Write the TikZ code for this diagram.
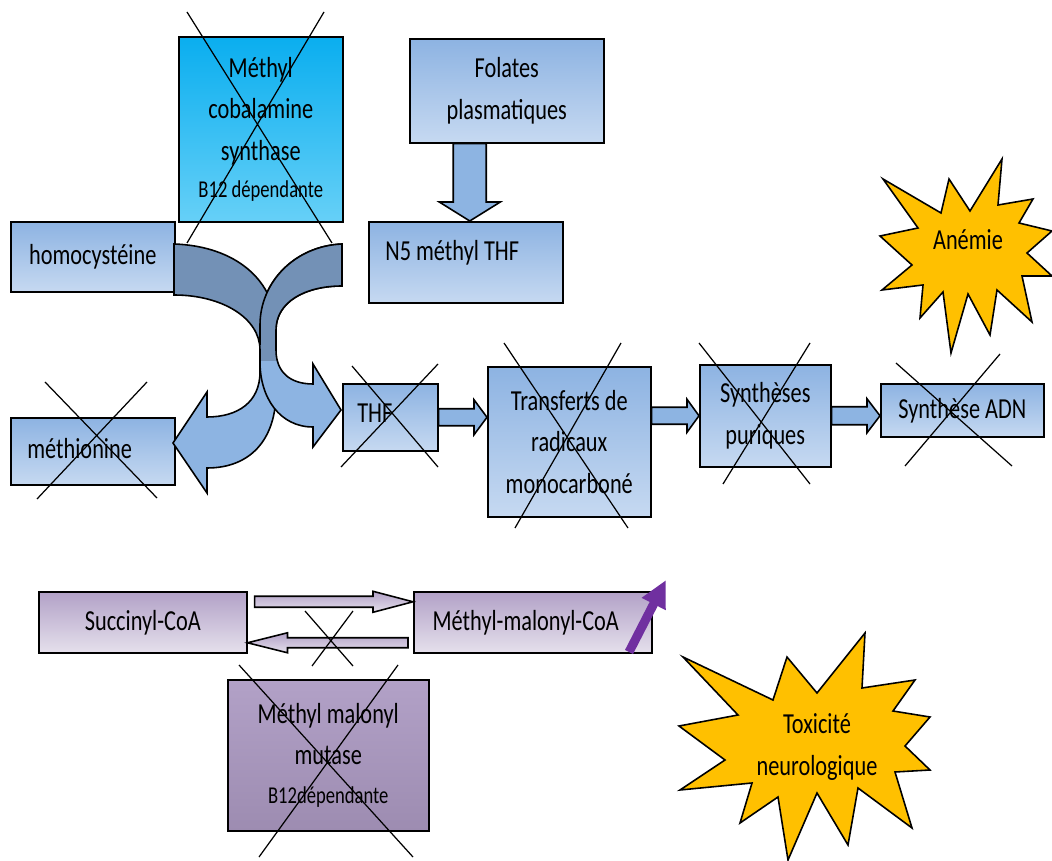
\documentclass[tikz,border=0pt]{standalone}
\usepackage{fontspec}
\setmainfont{Carlito}[FakeStretch=0.77]
\usetikzlibrary{arrows.meta,calc}

\definecolor{boxtop}{HTML}{8DB3E2}
\definecolor{boxbot}{HTML}{C6D9F1}
\definecolor{cyantop}{HTML}{0AAEEF}
\definecolor{cyanbot}{HTML}{66D0F7}
\definecolor{purtop}{HTML}{B2A1C7}
\definecolor{purbot}{HTML}{E5E0EC}
\definecolor{mutbot}{HTML}{9D8CB1}
\definecolor{banddark}{HTML}{7391B6}
\definecolor{bandlight}{HTML}{8DB4E2}
\definecolor{starfill}{HTML}{FFC000}
\definecolor{arrowpurple}{HTML}{7030A0}

% horizontal block arrow: from, to, shaft half width, head half width, head length, style
\newcommand{\hblock}[6]{%
  \draw[#6] let \p1=(#1), \p2=(#2) in
    (\x1,{\y1+#3}) -- ({\x2-(#5)},{\y1+#3}) -- ({\x2-(#5)},{\y1+#4}) -- (\x2,\y1)
    -- ({\x2-(#5)},{\y1-#4}) -- ({\x2-(#5)},{\y1-#3}) -- (\x1,{\y1-#3}) -- cycle;}

\begin{document}
\begin{tikzpicture}[x=0.02cm, y=-0.02cm, font=\fontsize{16.5}{23.5}\selectfont,
  pbox/.style={draw=black, line width=0.9pt, top color=boxtop, bottom color=boxbot,
    anchor=north west, inner sep=0pt, align=center},
  cyanbox/.style={pbox, top color=cyantop, bottom color=cyanbot},
  purbox/.style={pbox, top color=purtop, bottom color=purbot},
  mutbox/.style={pbox, top color=purtop, bottom color=mutbot},
  lbl/.style={anchor=west, inner sep=0pt},
  xline/.style={draw=black, line width=0.7pt},
  blockarrow/.style={draw=black, line width=0.9pt, fill=bandlight},
  purblock/.style={draw=black, line width=0.9pt, top color=purtop, bottom color=purbot},
  bandline/.style={draw=black, line width=0.9pt},
  starshape/.style={draw=black, line width=0.9pt, fill=starfill},
  purarrow/.style={draw=arrowpurple, line width=0.18cm, -{Triangle[length=0.54cm, width=0.5cm]}}]
\useasboundingbox (0,0) rectangle (1052,861);

% boxes
\node[cyanbox, minimum width=3.28cm, minimum height=3.70cm] (mcs) at (178,36)
  {Méthyl\\cobalamine\\synthase\\[-2.5pt]{\fontsize{13.75}{15}\selectfont B12 dépendante}};
\node[pbox, minimum width=3.88cm, minimum height=2.08cm] (fol) at (409,38) {Folates\\plasmatiques};
\node[pbox, minimum width=3.88cm, minimum height=1.62cm] (n5) at (368,221) {};
\node[lbl] (n5t) at ([xshift=0.34cm, yshift=0.19cm]n5.west) {N5 méthyl THF};
\node[pbox, minimum width=3.28cm, minimum height=1.40cm] (homo) at (10,221) {homocystéine};
\node[pbox, minimum width=3.28cm, minimum height=1.34cm] (meth) at (10,417) {};
\node[lbl] (metht) at ([xshift=0.34cm, yshift=0.05cm]meth.west) {méthionine};
\node[pbox, minimum width=1.90cm, minimum height=1.34cm] (thf) at (342,383) {};
\node[lbl] (thft) at ([xshift=0.3cm, yshift=0.09cm]thf.west) {THF};
\node[pbox, minimum width=3.26cm, minimum height=3.00cm] (trans) at (487,366) {Transferts de\\radicaux\\monocarboné};
\node[pbox, minimum width=2.62cm, minimum height=2.04cm] (synp) at (699,364) {Synthèses\\puriques};
\node[pbox, minimum width=3.26cm, minimum height=1.06cm] (adn) at (880,383) {Synthèse ADN};
\node[purbox, minimum width=4.16cm, minimum height=1.22cm] (succ) at (38,591) {Succinyl-CoA};
\node[purbox, minimum width=4.76cm, minimum height=1.22cm] (mmc) at (413,591) {Méthyl-malonyl-CoA\hspace{0.28cm}};
\node[mutbox, minimum width=4.02cm, minimum height=3.02cm] (mut) at (227,679)
  {Méthyl malonyl\\mutase\\[-1.7pt]{\fontsize{13.75}{15}\selectfont B12dépendante}};

% curved arrows
\def\bandA{(174,244) .. controls (235,246) and (276,280) .. (276,330) -- (276,350)
  .. controls (276,372) and (290,384) .. (313,384) -- (313,364) -- (341,410) -- (313,447) -- (313,427)
  .. controls (280,427) and (260,398) .. (260,362) -- (260,350) .. controls (260,318) and (222,295) .. (174,295) -- cycle}
\def\bandB{(342,244) .. controls (295,246) and (260,282) .. (260,325) -- (260,372)
  .. controls (260,402) and (238,417) .. (207,417) -- (207,392) -- (173,443) -- (207,493) -- (207,468)
  .. controls (250,468) and (276,440) .. (276,392) -- (276,330) .. controls (276,302) and (305,286) .. (342,286) -- cycle}
\begin{scope}
  \clip (150,200) rectangle (360,362);
  \fill[banddark] \bandB;
\end{scope}
\begin{scope}
  \clip (150,362) rectangle (360,520);
  \fill[bandlight] \bandB;
\end{scope}
\draw[bandline] \bandB;
\begin{scope}
  \clip (150,200) rectangle (360,362);
  \fill[banddark] \bandA;
\end{scope}
\begin{scope}
  \clip (150,362) rectangle (360,520);
  \fill[bandlight] \bandA;
\end{scope}
\draw[bandline] \bandA;
\begin{scope}
  \clip (150,200) rectangle (360,345);
  \fill[banddark] \bandB;
  \draw[bandline] \bandB;
\end{scope}

% block arrows
\draw[blockarrow] let \p1=([xshift=-0.74cm]fol.south), \p2=(n5.north) in
  ({\x1-0.33cm},\y1) -- ({\x1-0.33cm},{\y2+0.38cm}) -- ({\x1-0.61cm},{\y2+0.38cm}) -- (\x1,\y2)
  -- ({\x1+0.61cm},{\y2+0.38cm}) -- ({\x1+0.33cm},{\y2+0.38cm}) -- ({\x1+0.33cm},\y1) -- cycle;
\hblock{thf.east}{trans.west}{0.17cm}{0.35cm}{0.26cm}{blockarrow}
\hblock{trans.east |- synp.west}{synp.west}{0.17cm}{0.33cm}{0.24cm}{blockarrow}
\hblock{synp.east}{adn.west}{0.18cm}{0.34cm}{0.26cm}{blockarrow}
\hblock{[xshift=0.14cm,yshift=0.41cm]succ.east}{mmc.west}{0.11cm}{0.21cm}{0.8cm}{purblock}
\hblock{[xshift=-0.1cm,yshift=-0.41cm]mmc.west}{succ.east}{0.1cm}{0.2cm}{-0.8cm}{purblock}

% purple rise
\coordinate (risea) at (629,652);
\coordinate (riseb) at (666,580);
\draw[purarrow] (risea) -- (riseb);

% stars
\draw[starshape] (1002,159) -- (998,205) -- (1033,199) -- (1019,223) -- (1052,231) -- (1027,253)
  -- (1052,276) -- (1022,276) -- (1032,322) -- (997,290) -- (990,335) -- (968,294) -- (951,353)
  -- (943,292) -- (920,318) -- (923,285) -- (882,290) -- (912,265) -- (880,236) -- (918,228)
  -- (883,179) -- (941,213) -- (949,179) -- (970,211) -- cycle;
\node (anemie) at (968,240) {Anémie};
\draw[starshape] (865,633) -- (862,688) -- (915,680) -- (893,711) -- (930,717) -- (905,746)
  -- (930,770) -- (895,772) -- (912,828) -- (858,788) -- (848,845) -- (817,793) -- (788,860)
  -- (778,797) -- (740,823) -- (752,783) -- (680,790) -- (725,760) -- (679,726) -- (738,715)
  -- (683,657) -- (773,700) -- (787,657) -- (817,693) -- cycle;
\node[align=center] (toxi) at (817,747) {Toxicité\\neurologique};

% crosses
\draw[xline] (187,12) -- (332,243) (324,12) -- (187,243);
\draw[xline] (45,382) -- (157,498) (147,382) -- (37,499);
\draw[xline] (352,366) -- (438,467) (438,364) -- (341,467);
\draw[xline] (504,343) -- (628,528) (621,343) -- (515,528);
\draw[xline] (699,343) -- (810,484) (810,343) -- (723,484);
\draw[xline] (896,363) -- (1012,466) (1000,354) -- (905,466);
\draw[xline] (305,611) -- (353,666) (353,611) -- (312,666);
\draw[xline] (239,665) -- (413,857) (398,665) -- (259,857);
\end{tikzpicture}
\end{document}
